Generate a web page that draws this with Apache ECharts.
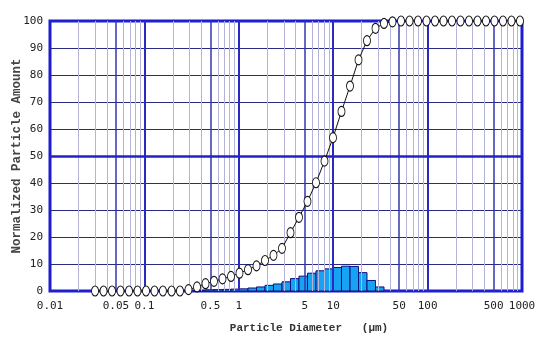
<!DOCTYPE html>
<html>
<head>
    <meta charset="utf-8">
    <title>Particle size distribution</title>
    <script src="https://cdn.jsdelivr.net/npm/echarts@6/dist/echarts.min.js"></script>
</head>
<body style="margin:0;background:#fff;">
    <div id="main" style="width:539px;height:338px;"></div>
    <script type="text/javascript">
        // particle sizes (um) where the cumulative points sit; bars span sizes[i]..sizes[i+1]
        var sizes = [0.0300, 0.0369, 0.0454, 0.0558, 0.0687, 0.0845, 0.104, 0.128, 0.157, 0.194,
            0.238, 0.293, 0.361, 0.444, 0.546, 0.672, 0.827, 1.017, 1.252, 1.540,
            1.895, 2.331, 2.868, 3.529, 4.342, 5.342, 6.573, 8.088, 9.951, 12.24,
            15.07, 18.54, 22.80, 28.06, 34.53, 42.48, 52.27, 64.31, 79.13, 97.35,
            119.8, 147.4, 181.3, 223.1, 274.5, 337.8, 415.6, 511.3, 629.1, 774.0, 952.4];
        var cumulative = [0, 0, 0, 0, 0, 0, 0, 0, 0, 0,
            0, 0.5, 1.5, 2.7, 3.6, 4.5, 5.4, 6.6, 7.9, 9.3,
            11.3, 13.2, 15.8, 21.6, 27.3, 33.2, 40.1, 48.1, 56.8, 66.5,
            75.9, 85.6, 92.7, 97.3, 99.1, 99.7, 100, 100, 100, 100,
            100, 100, 100, 100, 100, 100, 100, 100, 100, 100, 100];
        var histogram = [0, 0, 0, 0, 0, 0, 0, 0, 0, 0,
            0, 0, 0.2, 0.4, 0.5, 0.6, 0.7, 0.8, 1.1, 1.5,
            2.1, 2.6, 3.4, 4.6, 5.5, 6.6, 7.5, 8.2, 8.7, 9.2,
            9.1, 6.8, 3.9, 1.5, 0, 0, 0, 0, 0, 0,
            0, 0, 0, 0, 0, 0, 0, 0, 0, 0];
        var xTickLabels = [0.01, 0.05, 0.1, 0.5, 1, 5, 10, 50, 100, 500, 1000];
        var majorLines = [0.1, 1, 10, 100];
        var midLines = [0.05, 0.5, 5, 50, 500];
        var minorLines = [0.02, 0.03, 0.04, 0.06, 0.07, 0.08, 0.09,
            0.2, 0.3, 0.4, 0.6, 0.7, 0.8, 0.9,
            2, 3, 4, 6, 7, 8, 9,
            20, 30, 40, 60, 70, 80, 90,
            200, 300, 400, 600, 700, 800, 900];

        var myChart = echarts.init(document.getElementById('main'));

        var curveData = sizes.map(function (s, i) { return [s, cumulative[i]]; });
        var barData = [];
        histogram.forEach(function (v, i) {
            if (v > 0) barData.push([sizes[i], sizes[i + 1], v]);
        });

        var gridLines = [];
        minorLines.forEach(function (v) {
            gridLines.push({ xAxis: v, lineStyle: { color: '#b4b4d8', width: 1, type: 'solid' } });
        });
        midLines.forEach(function (v) {
            gridLines.push({ xAxis: v, lineStyle: { color: '#3434b0', width: 1.5, type: 'solid' } });
        });
        majorLines.forEach(function (v) {
            gridLines.push({ xAxis: v, lineStyle: { color: '#2a2ac0', width: 2, type: 'solid' } });
        });
        gridLines.push({ yAxis: 50, lineStyle: { color: '#2222c8', width: 2.5, type: 'solid' } });

        var tickFont = 'DejaVu Sans Mono';

        var option = {
            backgroundColor: '#fff',
            animation: false,
            grid: {
                left: 50, right: 17, top: 21, bottom: 47,
                outerBoundsMode: 'none',
                containLabel: false,
                show: true,
                borderColor: '#1c1cd0',
                borderWidth: 3
            },
            xAxis: {
                type: 'log',
                logBase: 10,
                min: 0.01,
                max: 1000,
                axisLine: { show: false },
                axisTick: { show: false },
                splitLine: { show: false },
                axisLabel: {
                    customValues: xTickLabels,
                    formatter: function (v) { return String(+v.toPrecision(3)); },
                    fontFamily: tickFont,
                    fontSize: 11,
                    color: '#222',
                    margin: 10
                },
                name: 'Particle Diameter   (μm)',
                nameLocation: 'middle',
                nameGap: 32,
                nameMoveOverlap: false,
                nameTextStyle: {
                    fontFamily: 'Liberation Mono',
                    fontWeight: 'bold',
                    fontSize: 11,
                    color: '#333',
                    padding: [0, 0, 0, 46]
                }
            },
            yAxis: {
                type: 'value',
                min: 0,
                max: 100,
                interval: 10,
                axisLine: { show: false },
                axisTick: { show: false },
                splitLine: { lineStyle: { color: '#2a2a82', width: 1 } },
                axisLabel: {
                    fontFamily: tickFont,
                    fontSize: 11,
                    color: '#222',
                    margin: 7
                },
                name: 'Normalized Particle Amount',
                nameLocation: 'middle',
                nameRotate: 90,
                nameGap: 27,
                nameMoveOverlap: false,
                nameTextStyle: {
                    fontFamily: 'Liberation Mono',
                    fontWeight: 'bold',
                    fontSize: 12.5,
                    color: '#444'
                }
            },
            series: [
                {
                    // carrier for the grid lines
                    type: 'line',
                    data: [],
                    z: 1,
                    silent: true,
                    markLine: {
                        silent: true,
                        symbol: ['none', 'none'],
                        label: { show: false },
                        animation: false,
                        data: gridLines
                    }
                },
                {
                    type: 'custom',
                    z: 3,
                    renderItem: function (params, api) {
                        var p0 = api.coord([api.value(0), 0]);
                        var p1 = api.coord([api.value(1), api.value(2)]);
                        return {
                            type: 'rect',
                            shape: { x: p0[0], y: p1[1], width: p1[0] - p0[0], height: p0[1] - p1[1] },
                            style: { fill: '#17a3f3', stroke: '#10107a', lineWidth: 1 }
                        };
                    },
                    encode: { x: [0, 1], y: 2 },
                    data: barData
                },
                {
                    type: 'line',
                    z: 5,
                    data: curveData,
                    symbol: 'circle',
                    symbolSize: [7, 10],
                    itemStyle: { color: '#fff', borderColor: '#111', borderWidth: 1 },
                    lineStyle: { color: '#111', width: 1 }
                }
            ]
        };

        myChart.setOption(option);
    </script>
</body>
</html>
